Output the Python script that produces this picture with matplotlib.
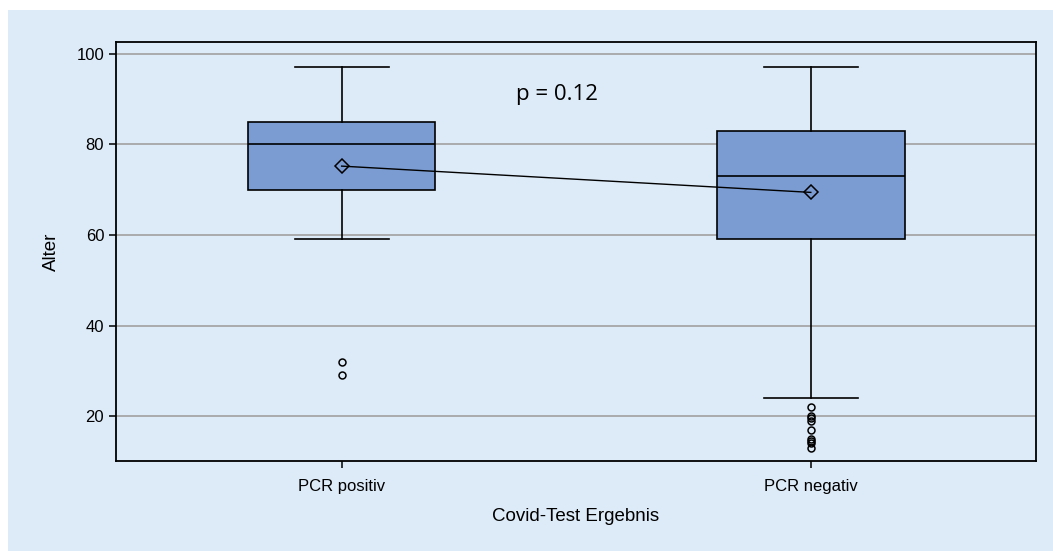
import numpy as np
import matplotlib.pyplot as plt
from matplotlib.patches import Rectangle

# values
groups = ['PCR positiv', 'PCR negativ']
whis_lo = [59, 24]
q1 = [70, 59]
median = [80, 73]
q3 = [85, 83]
whis_hi = [97, 97]
means = [75.2, 69.4]
fliers = [[32, 29], [22, 20, 19.5, 19, 17, 15, 14.5, 14, 13]]
p_text = 'p = 0.12'

bg = '#DDEAF7'
box_col = '#7A9CD2'

fig = plt.figure(figsize=(10.53, 5.51), dpi=100)
fig.patch.set_facecolor('white')
fig.add_artist(Rectangle((8 / 1053, 0), 1, 1 - 10 / 551, transform=fig.transFigure,
                         facecolor=bg, edgecolor='none', zorder=-10))

ax = fig.add_axes([116 / 1053, 1 - 461 / 551, 920 / 1053, 419 / 551])
ax.set_facecolor(bg)

stats = []
for i in range(len(groups)):
    stats.append(dict(label=groups[i], whislo=whis_lo[i], q1=q1[i], med=median[i],
                      q3=q3[i], whishi=whis_hi[i], mean=means[i], fliers=fliers[i]))

pos = np.arange(1, len(groups) + 1)
ax.bxp(stats, positions=pos, widths=0.4, patch_artist=True, showmeans=True,
       boxprops=dict(facecolor=box_col, edgecolor='black', linewidth=1.2),
       medianprops=dict(color='black', linewidth=1.2),
       whiskerprops=dict(color='black', linewidth=1.2),
       capprops=dict(color='black', linewidth=1.2),
       capwidths=0.2,
       meanprops=dict(marker='D', markerfacecolor='none', markeredgecolor='black',
                      markersize=7, markeredgewidth=1.1),
       flierprops=dict(marker='o', markerfacecolor='none', markeredgecolor='black',
                       markersize=5, markeredgewidth=1.1),
       zorder=3)
ax.plot(pos, means, color='black', linewidth=1, zorder=4)

ax.text(1.458, 89.9, p_text, fontsize=16, family='Open Sans', ha='center', va='baseline')

ax.set_xlim(0.519, 2.48)
ax.set_ylim(10.1, 102.6)
ax.set_yticks([20, 40, 60, 80, 100])
ax.set_xticks(pos)
ax.set_xticklabels(groups)
ax.yaxis.grid(True, color='#A0A0A0', linewidth=1.2, zorder=1)
ax.set_axisbelow(True)
ax.tick_params(labelsize=12, length=5, width=1.1)
ax.tick_params(axis='x', pad=8)
for lab in ax.get_xticklabels() + ax.get_yticklabels():
    lab.set_family('Liberation Sans')
for s in ax.spines.values():
    s.set_linewidth(1.3)

ax.set_xlabel('Covid-Test Ergebnis', fontsize=13.5, family='Liberation Sans', labelpad=10)
ax.set_ylabel('Alter', fontsize=13.5, family='Liberation Sans', labelpad=12)

fig.savefig('out.png', dpi=100)
